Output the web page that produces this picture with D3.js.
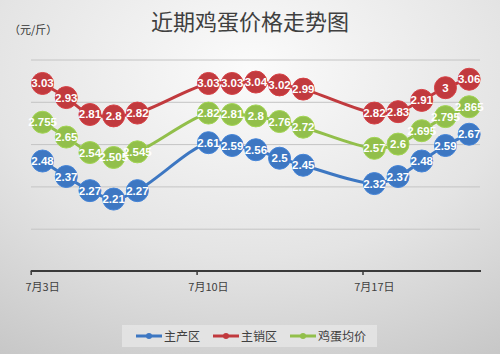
<!DOCTYPE html>
<html><head><meta charset="utf-8">
<script src="https://cdn.jsdelivr.net/npm/d3@7"></script>
<style>html,body{margin:0;padding:0;}svg{display:block;}</style>
</head><body>
<script>
const title = "近期鸡蛋价格走势图";
const unitLabel = "（元/斤）";
const days = [3,4,5,6,7,10,11,12,13,14,17,18,19,20,21];
const tickDays = [3,10,17];
const tickLabels = ["7月3日","7月10日","7月17日"];
const yTicks = [1.7,2.0,2.3,2.6,2.9,3.2];
const seriesNames = ["主产区","主销区","鸡蛋均价"];
const production = [2.48,2.37,2.27,2.21,2.27,2.61,2.59,2.56,2.5,2.45,2.32,2.37,2.48,2.59,2.67];
const sales = [3.03,2.93,2.81,2.8,2.82,3.03,3.03,3.04,3.02,2.99,2.82,2.83,2.91,3,3.06];
const average = [2.755,2.65,2.54,2.505,2.545,2.82,2.81,2.8,2.76,2.72,2.57,2.6,2.695,2.795,2.865];
const colors = ["#3d77c2","#c13a3e","#92bf4b"];
const series = [production, sales, average];

const W=500,H=354;
const svg = d3.select("body").append("svg").attr("width",W).attr("height",H);
const defs = svg.append("defs");
const rg = defs.append("radialGradient").attr("id","bg").attr("cx",250).attr("cy",70).attr("r",380)
  .attr("gradientUnits","userSpaceOnUse").attr("gradientTransform","matrix(1.25,0,0,0.9,-62,7)");
rg.append("stop").attr("offset","0").attr("stop-color","#fbfbfb");
rg.append("stop").attr("offset","0.55").attr("stop-color","#e4e4e4");
rg.append("stop").attr("offset","1").attr("stop-color","#c6c6c6");
svg.append("rect").attr("width",W).attr("height",H).attr("fill","url(#bg)");

const x = d3.scaleLinear().domain([3,22]).range([30.7,481]);
const y = d3.scaleLinear().domain([1.7,3.2]).range([271,59.5]);

// gridlines
svg.append("g").attr("transform","translate(31,0)")
  .call(d3.axisLeft(y).tickValues(yTicks.slice(1)).tickSize(-449).tickFormat(""))
  .call(g=>{g.select(".domain").remove();g.selectAll("line").attr("stroke","#c4c4c4").attr("stroke-width",1);});

// x axis
const xa = svg.append("g").attr("transform",`translate(0,${y(1.7)})`)
  .call(d3.axisBottom(x).tickValues(tickDays).tickSize(4).tickFormat(""));
xa.select(".domain").attr("stroke","#3a3a3a").attr("stroke-width",2).attr("d",`M${x(3)},0H${x(22)}`);
xa.selectAll("line").attr("stroke","#3a3a3a").attr("stroke-width",1.5);
svg.append("g").selectAll("text").data(tickDays).join("text")
  .attr("x",d=>x(d+0.5)).attr("y",291).attr("text-anchor","middle")
  .attr("font-family","'Noto Sans CJK SC',sans-serif").attr("font-size",11).attr("fill","#404040")
  .text((d,i)=>tickLabels[i]);

const line = d3.line().x(d=>x(d[0]+0.5)).y(d=>y(d[1])).curve(d3.curveCatmullRom.alpha(0.5));
series.forEach((vals,i)=>{
  const pts = days.map((d,j)=>[d,vals[j]]);
  svg.append("path").datum(pts).attr("d",line).attr("fill","none").attr("stroke",colors[i]).attr("stroke-width",3);
});
series.forEach((vals,i)=>{
  const pts = days.map((d,j)=>[d,vals[j]]);
  svg.append("g").selectAll("circle").data(pts).join("circle")
    .attr("cx",d=>x(d[0]+0.5)).attr("cy",d=>y(d[1])).attr("r",11)
    .attr("fill",colors[i]).attr("stroke",d3.color(colors[i]).brighter(0.3)).attr("stroke-width",1);
});
series.forEach((vals,i)=>{
  const pts = days.map((d,j)=>[d,vals[j]]);
  svg.append("g").selectAll("text").data(pts).join("text")
    .attr("x",d=>x(d[0]+0.5)).attr("y",d=>y(d[1])+4)
    .attr("text-anchor","middle").attr("font-family","'Liberation Sans',Arial,sans-serif")
    .attr("font-size",11.5).attr("font-weight","bold").attr("fill","#ffffff")
    .text(d=>String(d[1]));
});

// title
svg.append("text").attr("x",250).attr("y",30).attr("text-anchor","middle")
  .attr("font-family","'Noto Sans CJK SC',sans-serif").attr("font-size",22).attr("fill","#3f3f3f").text(title);
svg.append("text").attr("x",9).attr("y",34)
  .attr("font-family","'Noto Sans CJK SC',sans-serif").attr("font-size",11).attr("fill","#333").text(unitLabel);

// legend
const lg = svg.append("g");
lg.append("rect").attr("x",122).attr("y",325).attr("width",255).attr("height",22).attr("fill","#e6e6e6").attr("opacity",0.8);
const lx = [136,213,290];
seriesNames.forEach((n,i)=>{
  const g = lg.append("g").attr("transform",`translate(${lx[i]},336)`);
  g.append("line").attr("x1",0).attr("x2",26).attr("stroke",colors[i]).attr("stroke-width",3);
  g.append("circle").attr("cx",13).attr("r",3).attr("fill",colors[i]);
  g.append("text").attr("x",28).attr("y",4.5).attr("font-family","'Noto Sans CJK SC',sans-serif")
    .attr("font-size",12).attr("fill","#404040").text(n);
});
</script>
</body></html>
